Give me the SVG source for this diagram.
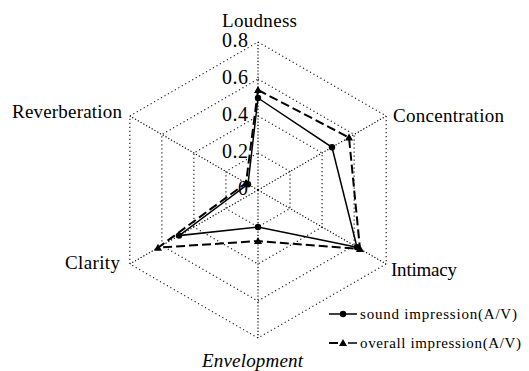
<svg xmlns="http://www.w3.org/2000/svg" width="529" height="371" viewBox="0 0 529 371">
<style>
.grid{fill:none;stroke:#111;stroke-width:1.1;stroke-dasharray:1.2 2.8}
.axis{fill:none;stroke:#000;stroke-width:1.2;stroke-dasharray:1.2 2}
.lab{font-family:"Liberation Serif","Times New Roman",serif;font-size:19px;fill:#000}
.tick{font-family:"Liberation Serif","Times New Roman",serif;font-size:20px;fill:#000;text-anchor:end}
.leg{font-family:"Liberation Serif","Times New Roman",serif;font-size:15px;fill:#000}
.s1{fill:none;stroke:#000;stroke-width:1.5}
.s2{fill:none;stroke:#000;stroke-width:2;stroke-dasharray:9 4}
</style>
<defs>
<circle id="dot" r="3.2" fill="#000"/>
<path id="tri" d="M0,-4 L4,3 L-4,3 Z" fill="#000"/>
</defs>
<rect width="529" height="371" fill="#fff"/>
<g id="grid">
<polygon class="grid" points="258,153 290.04,171.5 290.04,208.5 258,227 225.96,208.5 225.96,171.5"/>
<polygon class="grid" points="258,116 322.09,153 322.09,227 258,264 193.91,227 193.91,153"/>
<polygon class="grid" points="258,79 354.13,134.5 354.13,245.5 258,301 161.87,245.5 161.87,134.5"/>
<polygon class="grid" points="258,42 386.17,116 386.17,264 258,338 129.83,264 129.83,116"/>
<path class="axis" d="M258,190 L258,42 M258,190 L386.17,116 M258,190 L386.17,264 M258,190 L258,338 M258,190 L129.83,264 M258,190 L129.83,116"/>
</g>
<g id="ticks">
<text class="tick" x="248" y="47" textLength="26">0.8</text>
<text class="tick" x="248" y="84" textLength="26">0.6</text>
<text class="tick" x="248" y="121" textLength="26">0.4</text>
<text class="tick" x="248" y="158" textLength="26">0.2</text>
<text class="tick" x="248" y="195">0</text>
</g>
<g id="axis-labels">
<g id="loudness"><text class="lab" x="222" y="27" textLength="75">Loudness</text></g>
<g id="concentration"><text class="lab" x="393" y="122" textLength="111">Concentration</text></g>
<g id="intimacy"><text class="lab" x="391" y="276" textLength="66">Intimacy</text></g>
<g id="envelopment"><text class="lab" x="202" y="367" textLength="101" font-style="italic">Envelopment</text></g>
<g id="clarity"><text class="lab" x="65" y="269" textLength="55">Clarity</text></g>
<g id="reverberation"><text class="lab" x="12" y="118" textLength="110">Reverberation</text></g>
</g>
<g id="connectors">
<path id="sound" class="s1" d="M258,98 L332,147.3 L357,247.2 L258,227 L179,235.6 L248,184.2 Z"/>
<path id="overall" class="s2" d="M258,90 L349,137.5 L360,248.9 L258,241 L158,247.7 L246,183.1 Z"/>
</g>
<g id="markers">
<use href="#dot" x="258" y="98"/>
<use href="#dot" x="332" y="147.3"/>
<use href="#dot" x="357" y="247.2"/>
<use href="#dot" x="258" y="227"/>
<use href="#dot" x="179" y="235.6"/>
<use href="#dot" x="248" y="184.2"/>
<use href="#tri" x="258" y="90"/>
<use href="#tri" x="349" y="137.5"/>
<use href="#tri" x="360" y="248.9"/>
<use href="#tri" x="258" y="241"/>
<use href="#tri" x="158" y="247.7"/>
<use href="#tri" x="246" y="183.1"/>
</g>
<g id="legend">
<line class="s1" x1="329" y1="314" x2="357" y2="314"/>
<use href="#dot" x="343" y="314"/>
<text class="leg" x="360" y="319" textLength="157">sound impression(A/V)</text>
<line x1="329" y1="343" x2="338" y2="343" stroke="#000" stroke-width="2"/>
<line x1="348" y1="343" x2="357" y2="343" stroke="#000" stroke-width="1.5"/>
<use href="#tri" x="343" y="343"/>
<text class="leg" x="360" y="348" textLength="161">overall impression(A/V)</text>
</g>
</svg>
